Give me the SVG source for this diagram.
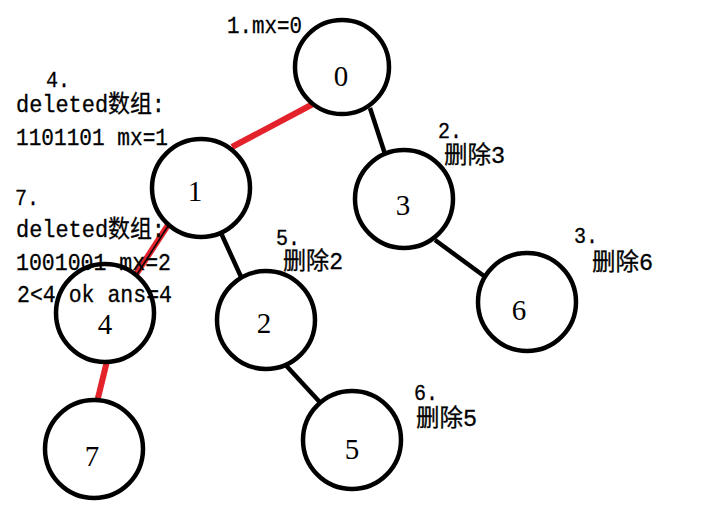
<svg xmlns="http://www.w3.org/2000/svg" width="725" height="509" viewBox="0 0 725 509">
<style>
.node circle{fill:#fff;stroke:#000;stroke-width:4.5}
.node text{font-family:"Liberation Serif",serif;font-size:29px;text-anchor:middle;fill:#000}
.edge{stroke:#000;stroke-width:4.5;stroke-linecap:butt}
.red{stroke:#e3222b;stroke-width:6}
.note{font-family:"Liberation Mono","Noto Sans CJK SC",monospace;font-size:24px;fill:#000;stroke:#000;stroke-width:0.3}
.num{font-size:22px}
</style>
<rect width="725" height="509" fill="#fff"/>
<g id="connectors">
<line class="edge red" x1="313" y1="104" x2="232" y2="147"/>
<line class="edge" x1="370" y1="108" x2="385" y2="154"/>
<line class="edge" x1="435" y1="240" x2="484" y2="276"/>
<line class="edge" x1="221" y1="233" x2="242" y2="279"/>
<line class="edge red" x1="170" y1="222" x2="133" y2="279"/>
<line stroke="#000" stroke-width="1.5" x1="168" y1="226" x2="136" y2="276"/>
<line class="edge" x1="281" y1="360" x2="328" y2="411"/>
<line class="edge" x1="98" y1="396" x2="96" y2="408"/>
<line class="edge red" x1="107" y1="361" x2="98" y2="398"/>
</g>
<g id="node0" class="node"><circle cx="342" cy="67" r="47"/><text x="341" y="86">0</text></g>
<g id="node1" class="node"><circle cx="201" cy="188" r="49"/><text x="195" y="201">1</text></g>
<g id="node3" class="node"><circle cx="404" cy="199" r="49"/><text x="403" y="215">3</text></g>
<g id="node6" class="node"><circle cx="527" cy="302" r="49"/><text x="519" y="320">6</text></g>
<g id="node2" class="node"><circle cx="266" cy="320" r="49"/><text x="264" y="333">2</text></g>
<g id="node4" class="node"><circle cx="105" cy="313" r="49"/><text x="105" y="334">4</text></g>
<g id="node7" class="node"><circle cx="94" cy="449" r="49"/><text x="92" y="466">7</text></g>
<g id="node5" class="node"><circle cx="352" cy="440" r="49"/><text x="352" y="459">5</text></g>
<g id="notes">
<text class="note" x="227" y="33" textLength="75" lengthAdjust="spacingAndGlyphs">1.mx=0</text>
<text class="note num" x="46" y="87" textLength="24" lengthAdjust="spacingAndGlyphs">4.</text>
<text class="note" x="16" y="112" textLength="149" lengthAdjust="spacingAndGlyphs">deleted数组:</text>
<text class="note" x="16" y="145" textLength="152" lengthAdjust="spacingAndGlyphs">1101101 mx=1</text>
<text class="note num" x="15" y="205" textLength="24" lengthAdjust="spacingAndGlyphs">7.</text>
<text class="note" x="16" y="237" textLength="149" lengthAdjust="spacingAndGlyphs">deleted数组:</text>
<text class="note" x="16" y="270" textLength="155" lengthAdjust="spacingAndGlyphs">1001001 mx=2</text>
<text class="note" x="17" y="302" textLength="155" lengthAdjust="spacingAndGlyphs">2&lt;4 ok ans=4</text>
<text class="note num" x="438" y="138" textLength="24" lengthAdjust="spacingAndGlyphs">2.</text>
<text class="note" x="444" y="163" textLength="61" lengthAdjust="spacingAndGlyphs">删除3</text>
<text class="note num" x="574" y="243" textLength="24" lengthAdjust="spacingAndGlyphs">3.</text>
<text class="note" x="592" y="270" textLength="61" lengthAdjust="spacingAndGlyphs">删除6</text>
<text class="note num" x="276" y="245" textLength="24" lengthAdjust="spacingAndGlyphs">5.</text>
<text class="note" x="283" y="269" textLength="60" lengthAdjust="spacingAndGlyphs">删除2</text>
<text class="note num" x="414" y="400" textLength="24" lengthAdjust="spacingAndGlyphs">6.</text>
<text class="note" x="416" y="426" textLength="61" lengthAdjust="spacingAndGlyphs">删除5</text>
</g>
</svg>
